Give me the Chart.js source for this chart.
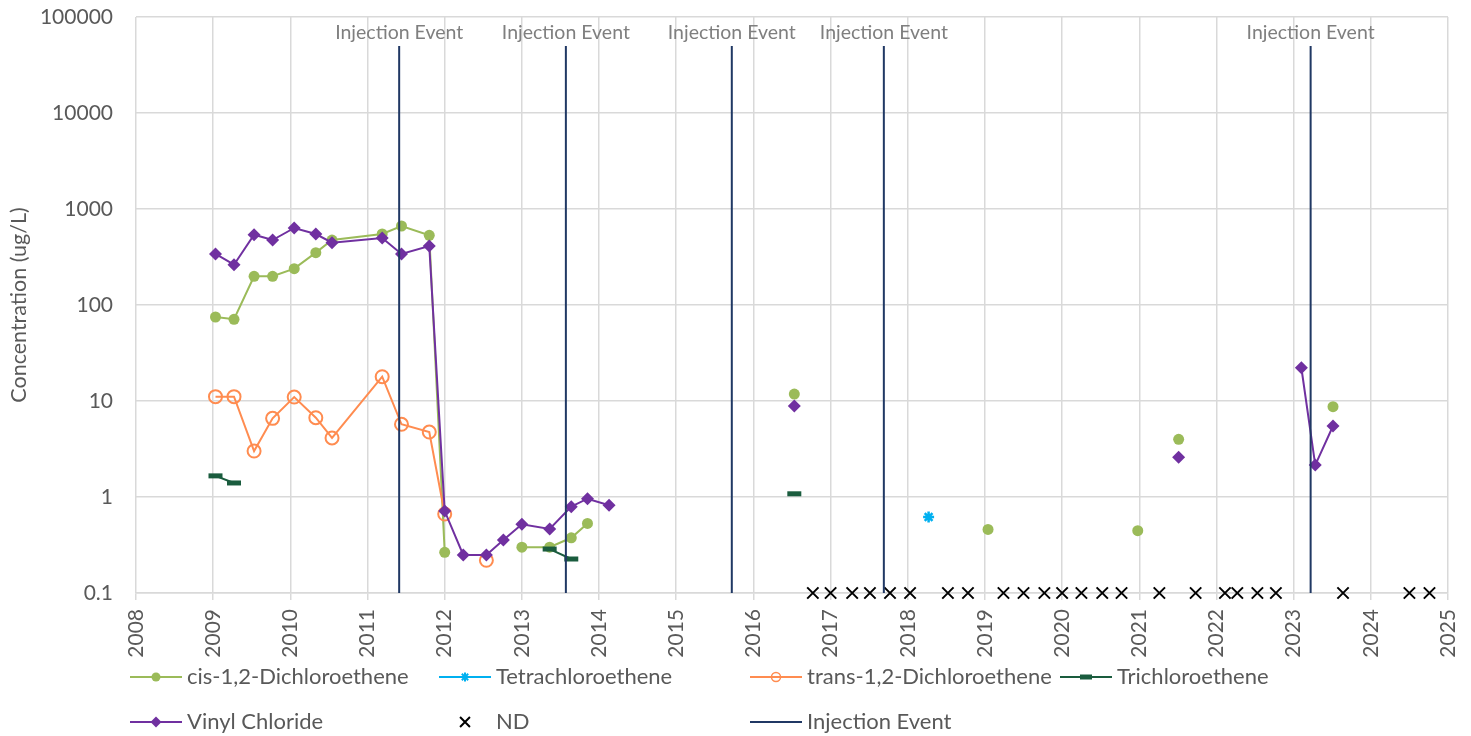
<!DOCTYPE html>
<html>
<head>
<meta charset="utf-8">
<title>Concentration history</title>
<script src="https://cdn.jsdelivr.net/npm/chart.js@4/dist/chart.umd.min.js"></script>
<style>
  html, body { margin: 0; padding: 0; background: #fff; }
  #wrap { width: 1471px; height: 736px; }
</style>
</head>
<body>
<div id="wrap"><canvas id="chartConc" width="1471" height="736"></canvas></div>
<script>
// ---- data (decimal years, ug/L); null = break in the line ----
const cisDates   = [2009.03, 2009.27, 2009.53, 2009.77, 2010.05, 2010.33, 2010.54, 2011.19, 2011.44, 2011.80, 2012.00, null, 2013.00, 2013.36, 2013.64, 2013.85, null, 2016.53, null, 2019.04, null, 2020.98, null, 2021.51, null, 2023.51];
const cisValues  = [75, 71, 199, 199, 239, 351, 475, 549, 665, 532, 0.265, null, 0.30, 0.30, 0.376, 0.53, null, 11.8, null, 0.46, null, 0.446, null, 3.99, null, 8.73];

const pceDates   = [2018.27];
const pceValues  = [0.62];

const transDates  = [2009.03, 2009.27, 2009.53, 2009.77, 2010.05, 2010.33, 2010.54, 2011.19, 2011.44, 2011.80, 2012.00, null, 2012.54];
const transValues = [11.1, 11.1, 3.01, 6.6, 11.0, 6.7, 4.12, 17.9, 5.72, 4.75, 0.665, null, 0.219];

const tceDates   = [2009.03, 2009.27, null, 2013.36, 2013.64, null, 2016.53];
const tceValues  = [1.66, 1.40, null, 0.287, 0.226, null, 1.08];

const vcDates    = [2009.03, 2009.27, 2009.53, 2009.77, 2010.05, 2010.33, 2010.54, 2011.19, 2011.44, 2011.80, 2012.00, 2012.24, 2012.54, 2012.76, 2013.00, 2013.36, 2013.64, 2013.85, 2014.13, null, 2016.53, null, 2021.51, null, 2023.10, 2023.28, 2023.51];
const vcValues   = [340, 263, 540, 475, 634, 549, 446, 499, 340, 412, 0.714, 0.249, 0.249, 0.356, 0.52, 0.464, 0.793, 0.96, 0.82, null, 8.87, null, 2.59, null, 22.2, 2.15, 5.49];

const ndDates    = [2016.77, 2017.00, 2017.28, 2017.51, 2017.77, 2018.03, 2018.52, 2018.78, 2019.24, 2019.50, 2019.77, 2020.00, 2020.25, 2020.52, 2020.77, 2021.26, 2021.73, 2022.11, 2022.27, 2022.53, 2022.77, 2023.64, 2024.50, 2024.76];
const ndValues   = [0.1, 0.1, 0.1, 0.1, 0.1, 0.1, 0.1, 0.1, 0.1, 0.1, 0.1, 0.1, 0.1, 0.1, 0.1, 0.1, 0.1, 0.1, 0.1, 0.1, 0.1, 0.1, 0.1, 0.1];

const injectionDates  = [2011.41, 2013.57, 2015.72, 2017.69, 2023.22];
const injectionBottom = 0.1;
const injectionTop    = 50000;
const injectionLabel  = 'Injection Event';

const yTicks = [0.1, 1, 10, 100, 1000, 10000, 100000];
const xMin = 2008, xMax = 2025;

// ---- helpers ----
const FONT = 'Lato, "Open Sans", sans-serif';
const TEXT = '#595959';
const GRID = '#d9d9d9';

function toPoints(dates, values) {
  return dates.map((d, i) => ({ x: d, y: values[i] }));
}

function injectionPoints() {
  const pts = [];
  injectionDates.forEach(d => {
    pts.push({ x: d, y: injectionBottom });
    pts.push({ x: d, y: injectionTop });
    pts.push({ x: null, y: null });
  });
  return pts;
}

// legend layout: [dataset label, column x, row y]
const legendSlots = [
  ['cis-1,2-Dichloroethene', 130, 677],
  ['Tetrachloroethene', 439, 677],
  ['trans-1,2-Dichloroethene', 750, 677],
  ['Trichloroethene', 1060, 677],
  ['Vinyl Chloride', 130, 722],
  ['ND', 439, 722],
  ['Injection Event', 750, 722]
];

const injectionLabelPlugin = {
  id: 'injectionLabels',
  afterDatasetsDraw(chart) {
    const ctx = chart.ctx;
    const xs = chart.scales.x;
    ctx.save();
    ctx.font = '19.5px ' + FONT;
    ctx.fillStyle = '#7f7f7f';
    ctx.textAlign = 'center';
    ctx.textBaseline = 'middle';
    injectionDates.forEach(d => {
      ctx.fillText(injectionLabel, xs.getPixelForValue(d), chart.chartArea.top + 16);
    });
    ctx.restore();
  }
};

const legendPlugin = {
  id: 'slotLegend',
  afterDraw(chart) {
    const ctx = chart.ctx;
    const drawPoint = Chart.helpers && Chart.helpers.drawPoint;
    ctx.save();
    legendSlots.forEach(([label, x, y]) => {
      const ds = chart.data.datasets.find(s => s.label === label);
      if (!ds) return;
      const w = 52;
      if (ds.showLine !== false) {
        ctx.strokeStyle = ds.borderColor;
        ctx.lineWidth = ds.borderWidth;
        ctx.beginPath();
        ctx.moveTo(x, y);
        ctx.lineTo(x + w, y);
        ctx.stroke();
      }
      if (ds.legendRadius && drawPoint) {
        ctx.fillStyle = ds.pointBackgroundColor;
        ctx.strokeStyle = ds.pointBorderColor;
        ctx.lineWidth = ds.legendBorder;
        drawPoint(ctx, { pointStyle: ds.pointStyle, radius: ds.legendRadius, rotation: 0, borderWidth: ds.legendBorder }, x + w / 2, y);
      }
      ctx.font = '22px ' + FONT;
      ctx.fillStyle = TEXT;
      ctx.textAlign = 'left';
      ctx.textBaseline = 'middle';
      ctx.fillText(label, x + 57, y);
    });
    ctx.restore();
  }
};

const ctx = document.getElementById('chartConc');

new Chart(ctx, {
  type: 'line',
  data: {
    datasets: [
      {
        label: 'cis-1,2-Dichloroethene',
        data: toPoints(cisDates, cisValues),
        borderColor: '#9bbb59', borderWidth: 2,
        pointStyle: 'circle', pointRadius: 5.5,
        pointBackgroundColor: '#9bbb59', pointBorderColor: '#9bbb59', pointBorderWidth: 0,
        legendRadius: 4.5, legendBorder: 0,
        order: 7
      },
      {
        label: 'Tetrachloroethene',
        data: toPoints(pceDates, pceValues),
        borderColor: '#00b0f0', borderWidth: 2,
        pointStyle: 'star', pointRadius: 5.5,
        pointBackgroundColor: '#00b0f0', pointBorderColor: '#00b0f0', pointBorderWidth: 2.5,
        legendRadius: 4.5, legendBorder: 2,
        order: 6
      },
      {
        label: 'trans-1,2-Dichloroethene',
        data: toPoints(transDates, transValues),
        borderColor: '#ff8c50', borderWidth: 2,
        pointStyle: 'circle', pointRadius: 6.5,
        pointBackgroundColor: 'rgba(255,255,255,0)', pointBorderColor: '#ff8c50', pointBorderWidth: 2,
        legendRadius: 4.5, legendBorder: 1.5,
        order: 5
      },
      {
        label: 'Trichloroethene',
        data: toPoints(tceDates, tceValues),
        borderColor: '#1a5c3e', borderWidth: 2,
        pointStyle: 'line', pointRadius: 7,
        pointBackgroundColor: '#1a5c3e', pointBorderColor: '#1a5c3e', pointBorderWidth: 5,
        legendRadius: 6, legendBorder: 5,
        order: 4
      },
      {
        label: 'Vinyl Chloride',
        data: toPoints(vcDates, vcValues),
        borderColor: '#7030a0', borderWidth: 2,
        pointStyle: 'rectRot', pointRadius: 6.5,
        pointBackgroundColor: '#7030a0', pointBorderColor: '#7030a0', pointBorderWidth: 0,
        legendRadius: 5.5, legendBorder: 0,
        order: 3
      },
      {
        label: 'ND',
        data: toPoints(ndDates, ndValues),
        showLine: false,
        clip: false,
        borderColor: '#000000', borderWidth: 2,
        pointStyle: 'crossRot', pointRadius: 8,
        pointBackgroundColor: '#000000', pointBorderColor: '#000000', pointBorderWidth: 2,
        legendRadius: 7, legendBorder: 2,
        order: 2
      },
      {
        label: 'Injection Event',
        data: injectionPoints(),
        borderColor: '#203864', borderWidth: 2,
        pointRadius: 0,
        pointBackgroundColor: '#203864', pointBorderColor: '#203864',
        order: 1
      }
    ]
  },
  options: {
    responsive: false,
    animation: false,
    devicePixelRatio: 1,
    spanGaps: false,
    clip: false,
    layout: { padding: { top: 17, right: 23, left: 0, bottom: 0 } },
    plugins: {
      legend: { display: false },
      tooltip: { enabled: false }
    },
    scales: {
      x: {
        type: 'linear',
        min: xMin,
        max: xMax,
        afterFit(scale) {
          scale.height = 143;
          scale.paddingLeft = 0;
          scale.paddingRight = 0;
        },
        grid: { color: GRID, lineWidth: 1.5, tickLength: 7, tickColor: GRID },
        border: { color: GRID, width: 1.5 },
        ticks: {
          stepSize: 1,
          minRotation: 90,
          maxRotation: 90,
          padding: 9,
          color: TEXT,
          font: { family: FONT, size: 21 },
          callback: v => String(v)
        }
      },
      y: {
        type: 'logarithmic',
        min: yTicks[0],
        max: yTicks[yTicks.length - 1],
        afterFit(scale) {
          scale.width = 136;
          scale.paddingTop = 0;
          scale.paddingBottom = 0;
        },
        afterBuildTicks(scale) { scale.ticks = yTicks.map(v => ({ value: v })); },
        grid: { color: GRID, lineWidth: 1.5, drawTicks: false },
        border: { display: false },
        title: {
          display: true,
          text: 'Concentration (ug/L)',
          color: TEXT,
          font: { family: FONT, size: 21.5 },
          padding: { top: 6, bottom: 0 }
        },
        ticks: {
          padding: 23,
          color: TEXT,
          font: { family: FONT, size: 21 },
          callback: v => String(v)
        }
      }
    }
  },
  plugins: [injectionLabelPlugin, legendPlugin]
});
</script>
</body>
</html>
